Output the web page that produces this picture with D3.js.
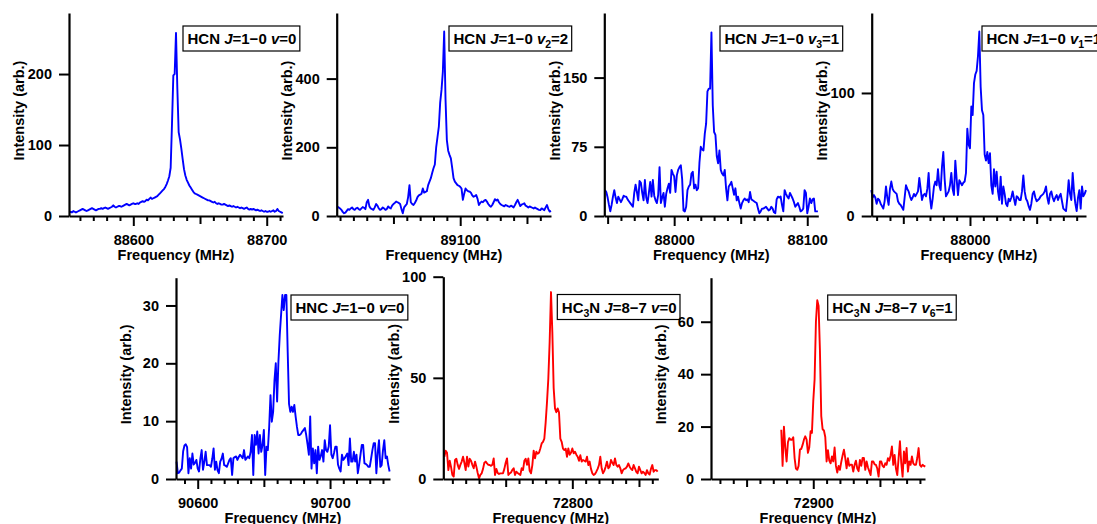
<!DOCTYPE html>
<html><head><meta charset="utf-8">
<script src="https://cdn.jsdelivr.net/npm/d3@7"></script>
<style>html,body{margin:0;padding:0;background:#fff;overflow:hidden}</style>
</head><body>
<svg id="chart" width="1097" height="524"></svg>
<script>
// ---- Data (1 MHz sampling) ----
const hcnV0Start = 88552;
const hcnV0 = [5,6,5,7,6,5,6,7,8,9,
10,9,8,7,8,9,10,11,10,9,
8,9,10,10,11,10,11,12,11,10,
11,12,13,15,13,12,13,14,14,13,
14,15,16,17,16,15,16,17,18,17,
17,18,17,19,20,21,20,21,23,22,
24,26,24,25,26,27,28,30,32,34,
36,38,41,45,50,56,68,130,198,200,
258,180,118,108,95,80,66,57,51,47,
43,40,37,34,32,31,30,29,28,27,
26,25,24,23,22,22,21,20,19,20,
18,17,18,17,16,16,17,16,15,14,
15,14,13,14,13,12,13,12,11,12,
11,10,11,12,10,9,10,9,10,9,
8,9,8,7,8,7,6,7,6,6,
7,6,7,8,6,7,10,7,6,5,4];

const hcnV2Start = 89008;
const hcnV2 = [27,25,22,18,12,8,10,15,20,18,
22,25,20,18,22,24,20,18,22,26,
24,20,40,47,28,22,20,18,25,35,
30,22,18,20,25,22,18,20,28,24,
22,30,35,38,42,40,38,35,20,8,
25,30,35,55,90,40,35,32,38,45,
55,60,62,65,80,68,70,72,90,100,
110,125,139,150,200,230,260,330,367,420,
537,340,221,190,178,168,140,110,100,95,
90,88,85,80,47,65,80,75,72,71,
68,60,56,58,61,50,32,38,42,40,
45,47,42,35,30,27,32,40,49,45,
48,40,35,32,30,28,32,30,28,27,
30,28,25,32,40,47,38,29,33,35,
37,30,28,25,28,26,24,22,25,22,
20,18,17,22,20,17,25,32,20,13,15];

const hcnV3Start = 87948;
const hcnV3 = [28,26,20,12,5,12,21,28,20,14,
21,18,15,18,22,21,21,18,16,14,
12,10,25,34,26,17,38,36,25,17,
39,20,14,25,37,21,39,22,17,14,
23,53,14,20,25,10,24,30,35,25,
50,46,43,26,44,50,53,55,40,6,
5,10,28,32,34,46,48,30,34,28,
30,58,75,72,71,89,100,135,138,138,
199,120,91,88,65,57,71,50,46,44,
50,30,17,32,34,37,30,23,30,17,
21,14,8,14,17,19,17,18,15,26,
18,17,16,15,14,8,3,5,8,8,
9,10,8,6,7,10,8,4,3,18,
21,20,21,12,5,28,24,21,19,25,
22,19,15,10,12,14,10,5,6,8,
28,25,3,10,19,14,18,19,5,5,5];

const hcnV1Start = 87926;
const hcnV1 = [21,15,17,15,10,14,13,10,8,6,
12,24,15,9,22,28,22,20,19,18,
12,10,9,7,5,15,25,22,20,16,
13,15,18,16,18,20,31,22,13,17,
18,16,22,35,15,6,14,24,28,25,
38,25,21,40,52,30,16,18,20,25,
35,22,17,45,30,17,29,27,25,27,
28,35,71,58,55,89,82,108,115,118,
130,150,105,86,82,50,45,52,43,51,
25,18,38,24,36,20,13,32,10,24,
18,10,8,14,12,15,20,14,9,16,
15,13,13,20,33,20,14,12,8,5,
10,18,20,15,12,13,14,16,17,18,
20,24,15,10,18,20,15,12,15,17,
13,16,18,12,6,5,4,15,29,18,
13,35,20,10,4,15,21,6,24,16,18,21];

const hncV0Start = 90584;
const hncV0 = [3.0,1.0,1.1,1.5,1.8,4.8,5.8,6.0,5.5,1.0,
3.6,1.8,4.4,2.5,2.8,3.3,1.8,1.3,3.5,5.0,
1.6,3.0,4.7,2.4,2.4,2.4,2.1,3.5,5.3,1.6,
3.0,1.5,1.0,3.0,3.5,4.4,2.4,2.3,2.1,2.7,
3.3,3.6,0.7,3.6,3.8,3.9,3.3,3.8,4.2,3.9,
3.6,5.0,3.3,3.6,3.9,3.6,4.7,7.6,0.7,7.6,
5.9,8.2,4.4,7.6,4.7,5.9,8.5,0.7,5.6,5.0,
9.0,14.5,9.9,11.6,17.0,20,13.4,20.3,24.9,28.4,
31.8,29.2,31.8,31.8,22,13,11.6,12.5,11.6,12.8,
10.8,9.0,7.6,7.6,7.8,8.2,8.5,8.8,7.6,6.0,
4.2,10.8,1.8,5.3,2.7,5.0,1.0,5.6,3.3,4.0,
5.0,3.0,6.7,5.0,4.7,5.6,9.3,4.2,3.6,4.5,
5.6,5.6,2.5,1.8,1.3,4.2,3.3,3.6,4.0,4.4,
2.4,7.0,3.0,3.0,4.7,3.0,4.2,1.0,2.5,4.2,
5.9,5.9,2.7,2.6,2.4,2.1,2.1,3.5,5.0,6.2,
6.2,1.0,4.5,6.7,2.1,2.4,5.0,6.7,3.6,3.9,2.4,1.3];

const hc3nV0Start = 72704;
const hc3nV0 = [11,14,13,4.4,9,6,2,1.2,9.4,10,
7,5,7,8.6,11,8,4.4,11,6.1,10,
9,7,5.3,8.6,6.1,3,0.3,2,2.8,5,
8,8.6,7.7,7,6.9,6.5,7,10.2,2,5,
3,2.5,2.8,2.8,2.8,5,8,10.2,2,2.8,
3.2,4.5,5.3,2,3.6,3,2.5,2,5.3,4.4,
9,10,7,10.2,4,2.8,6.9,14,10.2,13.5,
12.5,13,15.1,17.6,18.4,20,28,38,49.7,68,
92.4,72.7,45,34.9,33,34.9,33,20,18.4,15,
14.3,15,11,15.1,12,13,15.1,12.7,13.5,12,
11,9,11.8,8.6,9.4,9,8.6,11,6.9,8.6,
5,2.8,2,2.5,3.6,5,6.9,11,5.3,2.8,
4,6.1,8.6,5.3,6.1,9.4,8,6.9,10.2,7,
6.1,6.9,5.3,2.8,4.4,5,5.3,6.1,7.7,6.1,
5,4.4,6.9,5.3,3.5,2.8,6.1,4.4,2.8,3.6,
3,2,4.4,2.8,2.2,5,6.9,3.6,4.4,4.4,3.6];

const hc3nV6Start = 72876;
const hc3nV6 = [18.8,5,20,12,6.7,14,15.6,15,15,15.9,
8,4,3.5,5,11.2,11.5,13,15,16.3,15,
10,12,18.2,17.6,29.7,38,60,68.2,66,49,
24,19,18.5,16,6.7,11,7,6,8.6,6.7,
12,5,2.5,5,3.5,6.5,9,11.2,8,4.1,
7.9,5,5.5,5.5,2.8,5.4,7,4,3,7.3,
5,8,8,3.5,6.7,4.5,3,1.5,6.7,6.7,
5.6,5.4,4,0.9,6.7,6.7,5,4.5,6,5.4,
7.9,7,9,12.4,5.4,9.2,4,1.5,8,14.4,
6,0.9,10.5,6,11.8,2.8,6.7,5.4,8.6,6,
5.4,5.4,8,11.8,5.4,4.7,5.4,5,4.7];

// axis extents and ticks
const xDomains = [[88551.8,88712.2],[89007.5,89168],[87947.5,88108.3],[87926.3,88087],
                  [90583.6,90745.3],[72703.2,72864.5],[72823.3,72983.8]];
const yMaxes = [286,591,220,165,34.8,100,76.8];
const yTickValues = [[0,100,200],[0,200,400],[0,75,150],[0,100],[0,10,20,30],[0,50,100],[0,20,40,60]];

// label segments: [text, style]  style: i = italic, s = subscript
const labels = [
  [['HCN '],['J','i'],['=1\u22120 '],['v','i'],['=0']],
  [['HCN '],['J','i'],['=1\u22120 '],['v','i'],['2','s'],['=2']],
  [['HCN '],['J','i'],['=1\u22120 '],['v','i'],['3','s'],['=1']],
  [['HCN '],['J','i'],['=1\u22120 '],['v','i'],['1','s'],['=1']],
  [['HNC '],['J','i'],['=1\u22120 '],['v','i'],['=0']],
  [['HC'],['3','s'],['N '],['J','i'],['=8\u22127 '],['v','i'],['=0']],
  [['HC'],['3','s'],['N '],['J','i'],['=8\u22127 '],['v','i'],['6','s'],['=1']]
];

const BLUE = '#0000ff', RED = '#ff0000';
const series = [
  {start:hcnV0Start, values:hcnV0, color:BLUE},
  {start:hcnV2Start, values:hcnV2, color:BLUE},
  {start:hcnV3Start, values:hcnV3, color:BLUE},
  {start:hcnV1Start, values:hcnV1, color:BLUE},
  {start:hncV0Start, values:hncV0, color:BLUE},
  {start:hc3nV0Start, values:hc3nV0, color:RED},
  {start:hc3nV6Start, values:hc3nV6, color:RED}
];

// layout (pixel frames: left, top, right, bottom; label box position)
const frames = [
  {L:69, T:13, R:283, B:216, bx:183, by:26},
  {L:336.7, T:13, R:551, B:216, bx:449, by:26},
  {L:604.3, T:13, R:818.3, B:216, bx:720, by:26},
  {L:871.7, T:13, R:1086, B:216, bx:982, by:26},
  {L:176, T:277.7, R:390, B:479, bx:291, by:295},
  {L:443.3, T:276.7, R:658.3, B:479, bx:557.3, by:294.5},
  {L:711, T:277.7, R:925, B:479, bx:827.7, by:295}
];

const FONT = "'Liberation Sans', Arial, Helvetica, sans-serif";
const FS = 14.5;
const LFS = 15;
const svg = d3.select('#chart');

series.forEach((s, k) => {
  const f = frames[k];
  const g = svg.append('g');
  const xs = d3.scaleLinear().domain(xDomains[k]).range([f.L, f.R]);
  const ys = d3.scaleLinear().domain([0, yMaxes[k]]).range([f.B, f.T]);

  // spectrum line
  const pts = s.values.map((v, i) => [s.start + i, v]);
  g.append('path').datum(pts)
    .attr('fill', 'none').attr('stroke', s.color).attr('stroke-width', 1.9)
    .attr('stroke-linejoin', 'round')
    .attr('d', d3.line().x(d => xs(d[0])).y(d => ys(d[1])));

  // x axis ticks: minor 10, medium 50, major 100
  const x0 = xDomains[k][0], x1 = xDomains[k][1];
  const all = d3.range(Math.ceil(x0 / 10) * 10, x1 + 0.001, 10);
  const minor = all.filter(v => v % 50 !== 0);
  const mid = all.filter(v => v % 50 === 0 && v % 100 !== 0);
  const major = all.filter(v => v % 100 === 0);
  const mk = (vals, size, lab, keepDomain) => {
    const a = d3.axisBottom(xs).tickValues(vals).tickSize(size).tickSizeOuter(0)
      .tickPadding(9).tickFormat(lab ? d3.format('d') : () => '');
    const ag = g.append('g').attr('transform', `translate(0,${f.B})`).call(a);
    ag.attr('font-family', FONT).attr('font-size', FS).attr('font-weight', 'bold');
    ag.selectAll('line').attr('stroke', '#000').attr('stroke-width', 2);
    if (keepDomain) ag.select('.domain').attr('stroke', '#000').attr('stroke-width', 2.2);
    else ag.select('.domain').remove();
    ag.selectAll('text').attr('fill', '#000');
  };
  mk(minor, 5, false, true);
  mk(mid, 8, false, false);
  mk(major, 10, true, false);

  // y axis
  const ya = d3.axisLeft(ys).tickValues(yTickValues[k]).tickSize(10).tickSizeOuter(0)
    .tickPadding(7).tickFormat(d3.format('d'));
  const yg = g.append('g').attr('transform', `translate(${f.L},0)`).call(ya);
  yg.attr('font-family', FONT).attr('font-size', FS).attr('font-weight', 'bold');
  yg.selectAll('line').attr('stroke', '#000').attr('stroke-width', 2);
  yg.select('.domain').attr('stroke', '#000').attr('stroke-width', 2.2);
  yg.selectAll('text').attr('fill', '#000');

  // axis titles
  g.append('text').attr('x', (f.L + f.R) / 2).attr('y', f.B + 39).attr('dy', '0.36em')
    .attr('text-anchor', 'middle').attr('font-family', FONT).attr('font-size', FS)
    .attr('font-weight', 'bold').text('Frequency (MHz)');
  const cy = (f.T + f.B) / 2 - 4;
  g.append('text').attr('transform', `translate(${f.L - 50},${cy}) rotate(-90)`)
    .attr('dy', '0.36em').attr('text-anchor', 'middle').attr('font-family', FONT)
    .attr('font-size', FS).attr('font-weight', 'bold').text('Intensity (arb.)');

  // label box
  const bg = g.append('g');
  const rect = bg.append('rect').attr('fill', '#fff').attr('stroke', '#000').attr('stroke-width', 1.2);
  const t = bg.append('text').attr('x', f.bx + 4.5).attr('y', f.by + 18)
    .attr('font-family', FONT).attr('font-size', LFS).attr('font-weight', 'bold');
  let shifted = false;
  labels[k].forEach(seg => {
    const sp = t.append('tspan').text(seg[0]);
    if (seg[1] === 'i') sp.attr('font-style', 'italic');
    if (seg[1] === 's') { sp.attr('font-size', 10.5).attr('dy', 4); shifted = true; }
    else if (shifted) { sp.attr('dy', -4); shifted = false; }
  });
  const w = t.node().getComputedTextLength();
  rect.attr('x', f.bx).attr('y', f.by).attr('width', w + 8).attr('height', 25);
});
</script>
</body></html>
